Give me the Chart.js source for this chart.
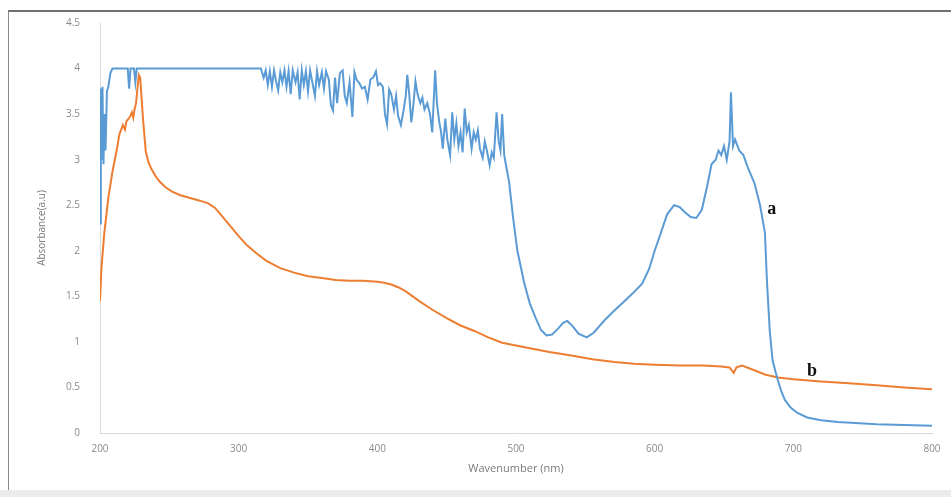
<!DOCTYPE html>
<html>
<head>
<meta charset="utf-8">
<title>Absorbance spectra</title>
<script src="https://cdn.jsdelivr.net/npm/chart.js@4/dist/chart.umd.min.js"></script>
<style>
  html, body { margin: 0; padding: 0; background: #ffffff; }
  #wrap { position: relative; width: 951px; height: 497px; overflow: hidden; }
  #frame { position: absolute; left: 8px; top: 10px; width: 943px; height: 480px;
           border-top: 2px solid #6f6f6f; border-left: 1px solid #8a8a8a; box-sizing: border-box; }
  #base { position: absolute; left: 0; top: 490px; width: 951px; height: 7px; background: #ececec; }
  canvas { position: absolute; left: 0; top: 0; }
</style>
</head>
<body>
<div id="wrap">
  <div id="frame"></div>
  <div id="base"></div>
  <canvas id="c" width="951" height="497"></canvas>
</div>
<script>
// Sample a: wavelength (nm) and absorbance (a.u.)
const waveA = [200, 200.6, 201.2, 201.8, 202.5, 203.2, 204, 205, 206, 207.5, 209, 220, 221, 222, 224.5, 225.5, 226.5,
  316, 318, 319.5, 321, 322.5, 324, 325.5, 327, 328.5, 330, 331.5, 333, 334.5, 336, 337.5, 339, 341, 342.5, 344, 345.5,
  347, 348.5, 350, 351.5, 353, 355, 356.5, 358, 360, 361.5, 363, 365, 366.5, 368, 369.5, 371, 373, 375, 376.5, 378, 380,
  382, 383.5, 385, 387, 389, 391, 393, 395, 397, 399, 400.5, 402, 404, 405.5, 407, 408.5, 410, 412, 413.5, 415, 417, 419,
  420.5, 421.6, 423, 424.5, 426, 427.5, 429, 431, 432.5, 434, 436, 438, 439.6, 441.7, 443, 444.6, 446, 447.2, 449, 450.5,
  452.5, 454, 455.5, 457, 458.5, 460, 461.5, 463, 464.5, 466, 468, 469.5, 471, 472.5, 474, 476, 477.5, 479, 481, 482.5,
  484, 486, 487.5, 488.8, 490, 491.5, 493, 495,
  498, 501, 506, 510, 514, 518, 522, 526, 530, 534, 537, 541, 545, 551, 556, 560,
  564, 570, 577, 584, 591, 596, 600, 605, 609, 614, 618, 622, 626, 630, 634, 638, 641, 644, 646, 648, 650, 652, 654, 655,
  656.5, 658, 661, 664, 667, 672, 676, 679.5, 681, 683, 685, 687, 689, 691.5, 694, 698, 703, 710, 720, 732, 760, 800];
const absA = [2.3, 3.78, 3.0, 3.8, 2.95, 3.5, 3.1, 3.75, 3.8, 3.95, 4.0, 4.0, 3.78, 4.0, 4.0, 3.85, 4.0,
  4.0, 3.9, 3.98, 3.82, 3.97, 3.8, 3.98, 3.86, 3.76, 3.96, 3.85, 3.98, 3.8, 3.97, 3.72, 3.98, 3.85, 3.96, 3.66, 3.98,
  3.82, 3.97, 3.75, 3.98, 3.86, 3.7, 3.97, 3.82, 3.96, 3.78, 3.97, 3.88, 3.6, 3.54, 3.9, 3.62, 3.95, 3.98, 3.7, 3.62, 3.85,
  3.47, 3.96, 3.88, 3.84, 3.78, 3.8, 3.66, 3.88, 3.9, 3.97, 3.82, 3.84, 3.8, 3.5, 3.39, 3.77, 3.72, 3.55, 3.7, 3.48, 3.38, 3.55,
  3.7, 3.93, 3.72, 3.41, 3.6, 3.86, 3.72, 3.62, 3.68, 3.55, 3.62, 3.5, 3.3, 3.98, 3.62, 3.42, 3.3, 3.12, 3.45, 3.22,
  3.05, 3.52, 3.22, 3.4, 3.15, 3.3, 3.08, 3.56, 3.3, 3.38, 3.12, 3.3, 3.22, 3.32, 3.12, 3.02, 3.2, 3.1, 2.94, 3.08,
  3.02, 3.52, 3.2, 3.1, 3.5, 3.05, 2.92, 2.76,
  2.35, 2.0, 1.64, 1.42, 1.27, 1.13, 1.07, 1.08, 1.14, 1.21, 1.23, 1.17, 1.09, 1.05, 1.1, 1.17,
  1.24, 1.33, 1.43, 1.53, 1.64, 1.8, 2.0, 2.22, 2.4, 2.5, 2.48, 2.42, 2.37, 2.36, 2.45, 2.72, 2.95, 3.0, 3.1, 3.05, 3.15, 3.0, 3.2, 3.74,
  3.15, 3.22, 3.1, 3.05, 2.92, 2.74, 2.5, 2.2, 1.66, 1.12, 0.8, 0.68, 0.57, 0.45, 0.36, 0.28, 0.22, 0.17, 0.14, 0.12, 0.095, 0.08];

// Sample b: wavelength (nm) and absorbance (a.u.)
const waveB = [200, 201, 203, 206, 209, 212, 214, 216.5, 218, 219, 221.6, 223, 224, 225, 226, 227, 228, 229, 231, 233, 235, 237,
  240, 243, 247, 252, 258, 265, 272, 278, 283, 288, 294, 300, 306, 313, 320, 330, 340, 350, 360, 370, 380, 390, 400, 405, 410,
  415, 420, 430, 440, 450, 460, 470, 480, 490, 500, 510, 524, 540, 555, 571, 585, 600, 619, 635, 648, 654, 657, 659, 663, 670,
  680, 689, 700, 720, 740, 760, 780, 800];
const absB = [1.45, 1.8, 2.18, 2.58, 2.87, 3.1, 3.28, 3.38, 3.33, 3.42, 3.47, 3.52, 3.46, 3.56, 3.62, 3.78, 3.93, 3.9, 3.45, 3.09, 2.97, 2.9,
  2.82, 2.76, 2.7, 2.65, 2.61, 2.58, 2.55, 2.52, 2.47, 2.38, 2.27, 2.16, 2.06, 1.97, 1.89, 1.81, 1.76, 1.72, 1.7, 1.68, 1.67, 1.67, 1.66, 1.65, 1.63,
  1.6, 1.56, 1.45, 1.35, 1.26, 1.18, 1.12, 1.05, 0.99, 0.96, 0.93, 0.89, 0.85, 0.81, 0.78, 0.76, 0.75, 0.74, 0.74, 0.73, 0.72, 0.66, 0.72, 0.74, 0.7,
  0.64, 0.61, 0.59, 0.565, 0.545, 0.525, 0.5, 0.48];

// Curve tags placed in data coordinates
const tagText = ['a', 'b'];
const tagWave = [684.5, 713.5];
const tagAbs = [2.45, 0.68];

const xTicks = [200, 300, 400, 500, 600, 700, 800];

const pairs = (xs, ys) => xs.map((x, i) => ({ x: x, y: ys[i] }));

const tagPlugin = {
  id: 'curveTags',
  afterDatasetsDraw(chart) {
    const ctx = chart.ctx;
    const xs = chart.scales.x, ys = chart.scales.y;
    ctx.save();
    ctx.font = 'bold 18px "Liberation Serif", "DejaVu Serif", serif';
    ctx.fillStyle = '#111111';
    ctx.textAlign = 'center';
    ctx.textBaseline = 'middle';
    tagText.forEach((t, i) => {
      ctx.fillText(t, xs.getPixelForValue(tagWave[i]), ys.getPixelForValue(tagAbs[i]));
    });
    ctx.restore();
  }
};

new Chart(document.getElementById('c'), {
  type: 'line',
  data: {
    datasets: [
      { label: 'a', data: pairs(waveA, absA), borderColor: '#5B9BD5', borderWidth: 2, pointRadius: 0, tension: 0, fill: false },
      { label: 'b', data: pairs(waveB, absB), borderColor: '#ED7D31', borderWidth: 2, pointRadius: 0, tension: 0, fill: false }
    ]
  },
  options: {
    responsive: false,
    animation: false,
    events: [],
    layout: { padding: { left: 0, right: 19, top: 23, bottom: 0 } },
    plugins: { legend: { display: false }, tooltip: { enabled: false } },
    scales: {
      x: {
        type: 'linear', min: 200, max: 800,
        afterBuildTicks: s => { s.ticks = xTicks.map(v => ({ value: v })); },
        afterFit: s => { s.height = 64; },
        grid: { display: false, drawTicks: false },
        border: { display: true, color: '#d9d9d9', width: 1 },
        ticks: { color: '#8a8a8a', padding: 10, font: { family: '"Open Sans", sans-serif', size: 10 } },
        title: { display: true, text: 'Wavenumber (nm)', color: '#7a7a7a',
                 font: { family: '"Open Sans", sans-serif', size: 11 }, padding: { top: 0, bottom: 22 } }
      },
      y: {
        min: 0, max: 4.5,
        ticks: { stepSize: 0.5, color: '#8a8a8a', padding: 20, callback: v => String(v),
                 font: { family: '"Open Sans", sans-serif', size: 10 } },
        afterFit: s => { s.width = 100; s.paddingTop = 6; s.paddingBottom = 6; },
        grid: { display: false, drawTicks: false },
        border: { display: true, color: '#d9d9d9', width: 1 },
        title: { display: true, text: 'Absorbance(a.u)', color: '#7a7a7a',
                 font: { family: '"Open Sans", sans-serif', size: 10 }, padding: { top: 36, bottom: 0 } }
      }
    }
  },
  plugins: [tagPlugin]
});
</script>
</body>
</html>
